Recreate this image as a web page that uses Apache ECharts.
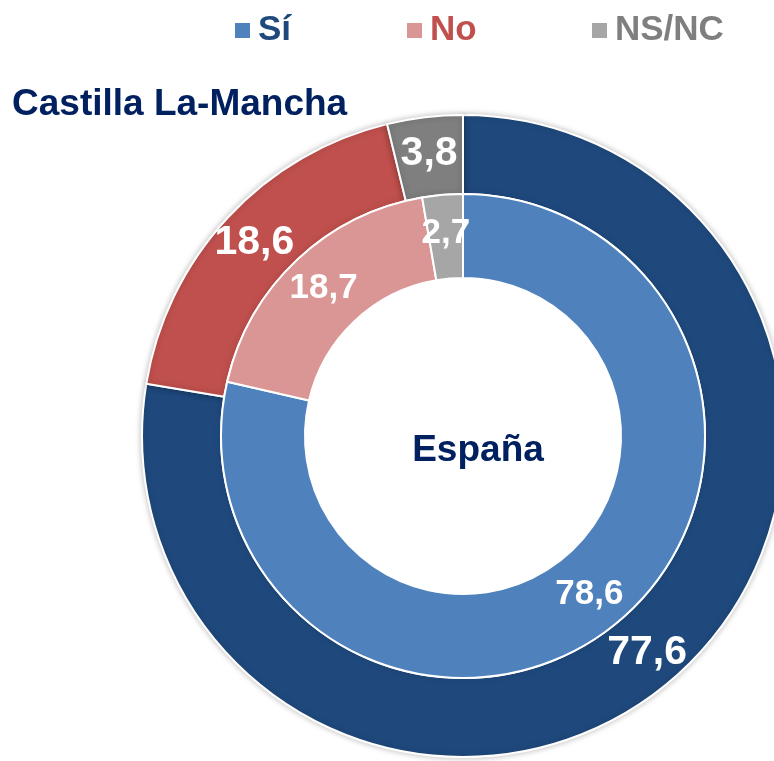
<!DOCTYPE html>
<html>
<head>
<meta charset="utf-8">
<script src="https://cdn.jsdelivr.net/npm/echarts@6/dist/echarts.min.js"></script>
<style>
  html, body { margin: 0; padding: 0; background: #fff; }
  #main { width: 774px; height: 761px; }
</style>
</head>
<body>
<div id="main"></div>
<script>
// datos
var categorias = ['Sí', 'No', 'NS/NC'];
var castillaLaMancha = [77.6, 18.6, 3.8];
var espana = [78.6, 18.7, 2.7];

var coloresFuera = ['#1F497D', '#C0504D', '#7F7F7F'];
var coloresDentro = ['#4F81BD', '#D99694', '#A6A6A6'];

var myChart = echarts.init(document.getElementById('main'));

function coma(p) {
    return String(p.value.toFixed(1)).replace('.', ',');
}

var datosFuera = [], datosDentro = [];
for (var i = 0; i < categorias.length; i++) {
    datosFuera.push({ name: categorias[i], value: castillaLaMancha[i], itemStyle: { color: coloresFuera[i] } });
    datosDentro.push({ name: categorias[i], value: espana[i], itemStyle: { color: coloresDentro[i] } });
}

var legendLeft = [228, 400, 585];
var legends = [];
for (var j = 0; j < categorias.length; j++) {
    legends.push({
        left: legendLeft[j],
        top: 8,
        itemWidth: 17,
        itemHeight: 17,
        icon: 'rect',
        selectedMode: false,
        textStyle: { fontFamily: 'Liberation Sans, Arial', fontWeight: 'bold', fontSize: 35, color: coloresFuera[j], padding: [0, 0, 0, 2] },
        data: [{ name: categorias[j], itemStyle: { color: coloresDentro[j] } }]
    });
}

var option = {
    animation: false,
    title: [
        {
            text: 'Castilla La-Mancha',
            left: 7,
            top: 81,
            textStyle: { fontFamily: 'Liberation Sans, Arial', fontWeight: 'bold', fontSize: 37, color: '#002060' }
        },
        {
            text: 'España',
            left: 473,
            top: 427,
            textAlign: 'center',
            textStyle: { fontFamily: 'Liberation Sans, Arial', fontWeight: 'bold', fontSize: 37, color: '#002060' }
        }
    ],
    legend: legends,
    series: [
        {
            name: 'Castilla La-Mancha',
            type: 'pie',
            center: [463, 436],
            radius: [242, 321],
            startAngle: 90,
            clockwise: true,
            silent: true,
            itemStyle: { borderColor: '#fff', borderWidth: 2, shadowBlur: 6, shadowColor: 'rgba(0,0,0,0.25)' },
            label: {
                position: 'inside',
                formatter: coma,
                color: '#fff',
                fontFamily: 'Liberation Sans, Arial',
                fontWeight: 'bold',
                fontSize: 41
            },
            labelLine: { show: false },
            data: datosFuera
        },
        {
            name: 'España',
            type: 'pie',
            center: [463, 436],
            radius: [158, 242],
            startAngle: 90,
            clockwise: true,
            silent: true,
            itemStyle: { borderColor: '#fff', borderWidth: 2 },
            label: {
                position: 'inside',
                formatter: coma,
                color: '#fff',
                fontFamily: 'Liberation Sans, Arial',
                fontWeight: 'bold',
                fontSize: 35
            },
            labelLine: { show: false },
            data: datosDentro
        }
    ]
};

myChart.setOption(option);
window.onresize = function () {
    myChart.resize();
};
</script>
</body>
</html>
